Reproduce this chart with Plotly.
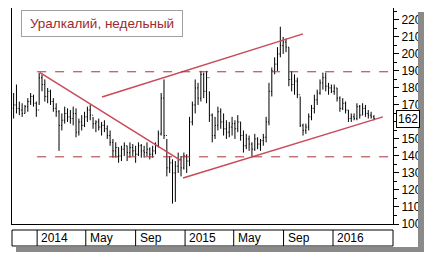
import pandas as pd
import plotly.graph_objects as go

# ---- data (weekly bars) ----
start_week = "2013-11-04"
high = [177,182,172,171,170,174,177,176,172,189,188,185,180,179,174,171,167,165,169,168,
        167,169,168,162,164,166,169,170,163,161,162,160,161,158,155,150,148,145,146,148,
        146,148,147,146,148,147,146,148,145,146,148,155,177,185,150,140,138,137,142,140,
        142,141,163,172,185,183,190,189,190,178,165,163,169,168,165,161,160,163,161,164,
        160,155,153,152,148,153,151,150,153,163,183,192,198,204,216,210,209,204,190,188,
        186,175,159,159,165,170,176,179,185,189,189,183,182,182,180,175,174,172,167,165,
        165,171,170,171,170,167,166,164]
low = [162,165,164,163,165,166,170,169,163,170,178,172,171,170,166,163,143,155,159,160,
       159,158,151,152,155,157,160,161,156,154,155,152,154,150,146,139,139,136,137,140,
       137,139,140,136,140,139,139,140,138,139,141,145,152,150,128,130,112,113,130,128,
       132,130,134,158,165,170,172,174,171,160,148,150,155,156,152,150,151,152,150,154,
       149,142,144,143,139,143,144,143,146,148,158,175,188,190,198,200,201,181,178,176,
       174,157,152,153,155,161,165,170,176,179,178,176,177,176,172,166,167,165,160,160,
       161,161,162,164,163,162,162,161]
close = [170,168,167,165,169,172,175,171,167,186,182,175,178,172,168,166,158,161,165,163,
         162,165,154,160,158,163,167,164,159,160,157,158,156,152,148,143,145,140,144,146,
         142,145,143,141,146,143,142,144,141,143,146,153,174,152,133,136,130,134,138,133,
         140,137,160,170,180,174,188,178,186,164,152,158,166,160,156,154,157,159,156,160,
         152,146,150,147,144,150,147,149,151,160,178,190,194,200,205,207,204,185,182,184,
         176,158,155,157,163,168,173,177,183,186,181,180,178,180,174,168,171,167,162,163,
         162,169,164,168,165,164,163,162]
first_open = 168
last_value = 162

# reference lines: (start date, start price, end date, end price)
trend_lines = [
    ("2014-01-08", 189, "2014-12-24", 137),
    ("2014-06-10", 174.7, "2015-10-19", 211.8),
    ("2014-12-27", 127, "2016-05-03", 163),
]
levels = [189.5, 139.5]
level_start = "2014-01-01"

tick_dates = ["2014-01-01", "2014-05-01", "2014-09-01", "2015-01-01",
              "2015-05-01", "2015-09-01", "2016-01-01"]
tick_labels = ["2014", "May", "Sep", "2015", "May", "Sep", "2016"]
y_tick_values = [100, 110, 120, 130, 140, 150, 160, 170, 180, 190, 200, 210, 220]
title_text = "Уралкалий, недельный"

x_range = ["2013-10-31", "2016-05-28"]
y_range = [100, 227]

# ---- build ----
dates = pd.date_range(start_week, periods=len(close), freq="7D")
opens = [first_open] + close[:-1]

fig = go.Figure()
fig.add_trace(go.Ohlc(
    x=dates, open=opens, high=high, low=low, close=close,
    increasing=dict(line=dict(color="black", width=1)),
    decreasing=dict(line=dict(color="black", width=1)),
    tickwidth=0.3, hoverinfo="skip", showlegend=False))

red = "#c94a58"
for x0, y0, x1, y1 in trend_lines:
    fig.add_trace(go.Scatter(x=[x0, x1], y=[y0, y1], mode="lines",
                             line=dict(color=red, width=1.5),
                             hoverinfo="skip", showlegend=False))
for lv in levels:
    fig.add_trace(go.Scatter(x=[level_start, x_range[1]], y=[lv, lv], mode="lines",
                             line=dict(color="#a8323c", width=1, dash="dash"),
                             hoverinfo="skip", showlegend=False))

W, H = 430, 260
ml, mr, mt, mb = 12, 37, 8, 36
pw, ph = W - ml - mr, H - mt - mb

def px(x):
    return (x - ml) / pw

def py(y):
    return (H - mb - y) / ph

shapes = []
# time-axis box
shapes.append(dict(type="rect", xref="paper", yref="paper",
                   x0=0, x1=1, y0=py(246), y1=py(230),
                   line=dict(color="black", width=1), fillcolor="white", layer="above"))
for d in tick_dates:
    shapes.append(dict(type="line", xref="x", yref="paper", x0=d, x1=d,
                       y0=py(246), y1=py(230), line=dict(color="black", width=1), layer="above"))
# frame clipping + shadow on the right and bottom
shapes.append(dict(type="rect", xref="paper", yref="paper", x0=px(418), x1=px(431),
                   y0=py(261), y1=py(-1), line=dict(width=0), fillcolor="white", layer="above"))
shapes.append(dict(type="rect", xref="paper", yref="paper", x0=px(418), x1=px(424),
                   y0=py(252), y1=py(12), line=dict(width=0), fillcolor="#8a8a8a", layer="above"))
shapes.append(dict(type="rect", xref="paper", yref="paper", x0=px(16), x1=px(424),
                   y0=py(252), y1=py(247), line=dict(width=0), fillcolor="#8a8a8a", layer="above"))

annotations = []
for d, t in zip(tick_dates, tick_labels):
    annotations.append(dict(x=d, xref="x", y=py(238), yref="paper", text=t,
                            xanchor="left", yanchor="middle", xshift=2, showarrow=False,
                            font=dict(family="Liberation Sans, Arial", size=12, color="black")))
annotations.append(dict(x=px(21), y=py(10), xref="paper", yref="paper", text=title_text,
                        xanchor="left", yanchor="top", showarrow=False, align="center",
                        width=156, height=21, bgcolor="white",
                        bordercolor="#a0a0a0", borderwidth=1, borderpad=2,
                        font=dict(family="Liberation Sans, Arial", size=13.5, color="#9e2a2f")))
annotations.append(dict(x=1, xref="paper", y=last_value, yref="y", text=str(last_value),
                        xanchor="left", yanchor="middle", xshift=3, showarrow=False,
                        bgcolor="white", bordercolor="black", borderwidth=1, borderpad=1,
                        font=dict(family="Liberation Sans, Arial", size=12, color="black")))

# the tick label hidden under the last-value box
y_tick_text = ["" if abs(v - last_value) < 5 else str(v) for v in y_tick_values]

fig.update_layout(
    width=W, height=H,
    margin=dict(l=ml, r=mr, t=mt, b=mb),
    paper_bgcolor="white", plot_bgcolor="white",
    showlegend=False,
    shapes=shapes, annotations=annotations,
    xaxis=dict(type="date", range=x_range, showgrid=False, zeroline=False,
               showticklabels=False, ticks="", showline=True, linecolor="black",
               linewidth=1, rangeslider=dict(visible=False), fixedrange=True),
    yaxis=dict(range=y_range, side="right", tickmode="array",
               tickvals=y_tick_values, ticktext=y_tick_text, showgrid=False,
               zeroline=False, ticks="outside", ticklen=5, tickcolor="black",
               showline=True, linecolor="black", linewidth=1, mirror=True,
               minor=dict(ticks="outside", dtick=5, tick0=100, ticklen=3, tickcolor="black"),
               tickfont=dict(family="Liberation Sans, Arial", size=12, color="black"),
               fixedrange=True),
)

fig.write_html("out.html")
